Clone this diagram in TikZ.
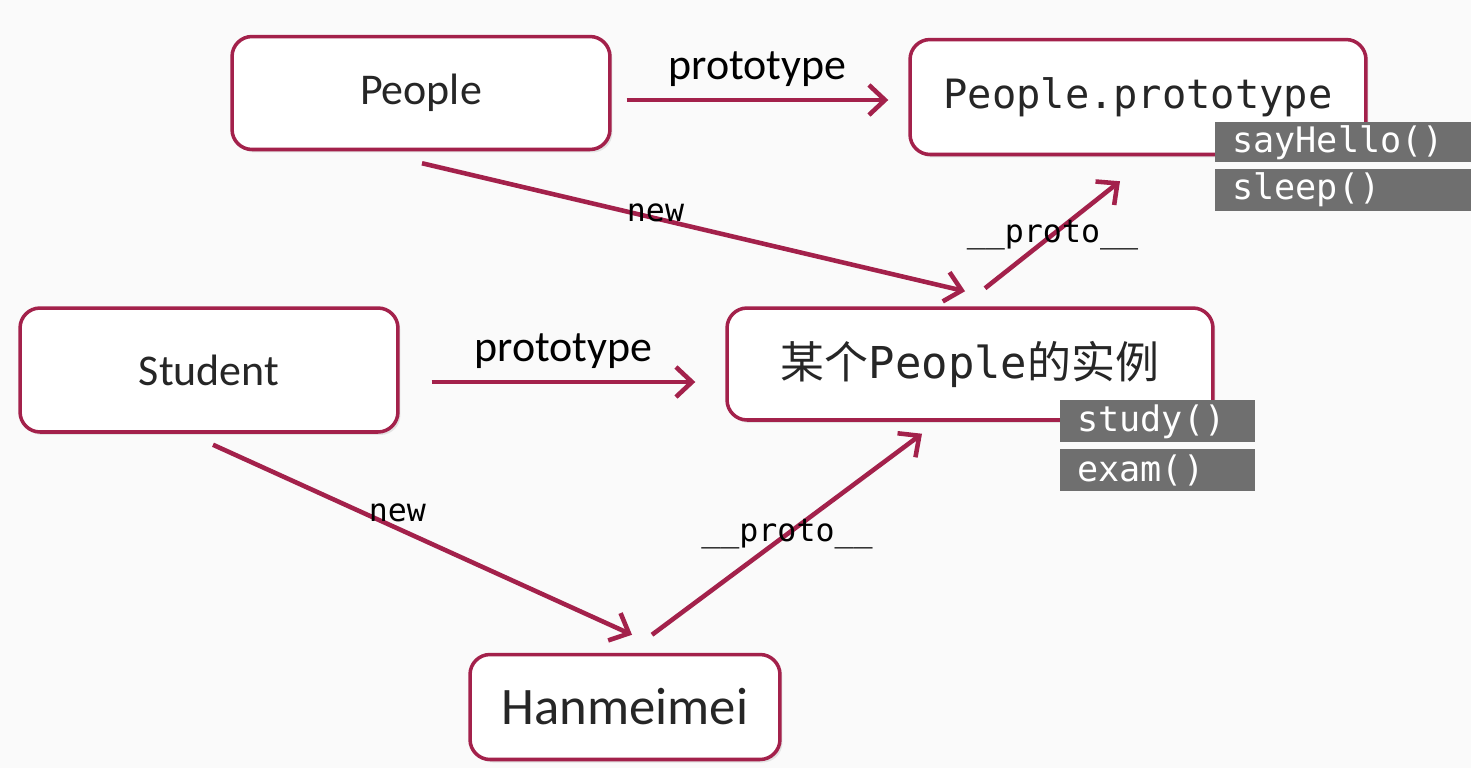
\documentclass[tikz,border=0pt]{standalone}
\usepackage{fontspec}
\setmainfont{Carlito}
\setmonofont{DejaVu Sans Mono}
\newfontfamily\cjk{Noto Sans CJK SC}
\usetikzlibrary{positioning,shapes,arrows.meta,calc,shadows}
\definecolor{linkred}{HTML}{A3214B}
\definecolor{methodgray}{HTML}{6F6F6F}
\definecolor{slidebg}{HTML}{FAFAFA}

\begin{document}
\begin{tikzpicture}[x=0.02cm, y=-0.02cm]
\tikzset{
    objbox/.style={rectangle, draw=linkred, line width=2pt, fill=white, rounded corners=0.4cm, text centered, text=black!85, drop shadow={shadow xshift=0.05cm, shadow yshift=-0.06cm, opacity=0.18}},
    method/.style={rectangle, fill=methodgray, text=white, font=\ttfamily\fontsize{20}{22}\selectfont, align=left, inner xsep=0.34cm, inner ysep=0pt, anchor=north west},
    link/.style={draw=linkred, line width=2.6pt, -{Straight Barb[length=0.32cm, width=0.6cm, line width=2.6pt]}},
    arrlabel/.style={font=\fontsize{25}{28}\selectfont},
    codelabel/.style={font=\ttfamily\fontsize{18}{20}\selectfont}
}
\fill[slidebg] (0,0) rectangle (1471,768);
\useasboundingbox (0,0) rectangle (1471,768);

\node[objbox, minimum width=7.56cm, minimum height=2.26cm, font=\fontsize{25}{28}\selectfont] (people) at (421,93) {People};
\node[objbox, minimum width=9.12cm, minimum height=2.3cm, font=\ttfamily\fontsize{23}{26}\selectfont] (proto) at (1138,97) {People.prototype};
\node[objbox, minimum width=7.56cm, minimum height=2.48cm, font=\fontsize{25}{28}\selectfont] (student) at (209,370) {Student};
\node[objbox, minimum width=9.72cm, minimum height=2.24cm, font=\fontsize{25}{28}\selectfont] (inst) at (970,364) {{\cjk 某个}{\ttfamily People}{\cjk 的实例}};
\node[objbox, minimum width=6.2cm, minimum height=2.1cm, font=\fontsize{30}{34}\selectfont] (han) at (625,707) {Hanmeimei};

% methods
\node[method, text width=4.44cm, minimum height=0.8cm] (hello) at (1215,122) {sayHello()};
\node[method, text width=4.44cm, minimum height=0.84cm, below=0.12cm of hello] (sleep) {sleep()};
\node[method, text width=3.22cm, minimum height=0.84cm] (study) at (1060,400) {study()};
\node[method, text width=3.22cm, minimum height=0.84cm, below=0.12cm of study] (exam) {exam()};

% links
\draw[link] ($(people.east)+(15,7)$) -- node[arrlabel, above=0.1cm] {prototype} ($(proto.west)+(-20,3)$);
\draw[link] ($(people.south)+(1,12)$) -- node[codelabel, pos=0.43, yshift=0.1cm] {new} ($(inst.north)+(-5,-15)$);
\draw[link] ($(inst.north)+(15,-18)$) -- node[codelabel, midway] {\_\_proto\_\_} ($(proto.south)+(-18,25)$);
\draw[link] ($(student.east)+(32,12)$) -- node[arrlabel, above=0.1cm] {prototype} ($(inst.west)+(-30,18)$);
\draw[link] ($(student.south)+(4,11)$) -- node[codelabel, pos=0.44, yshift=0.3cm] {new} ($(han.north)+(7,-18)$);
\draw[link] ($(han.north)+(27,-18)$) -- node[codelabel, midway] {\_\_proto\_\_} ($(inst.south)+(-48,12)$);
\end{tikzpicture}
\end{document}
